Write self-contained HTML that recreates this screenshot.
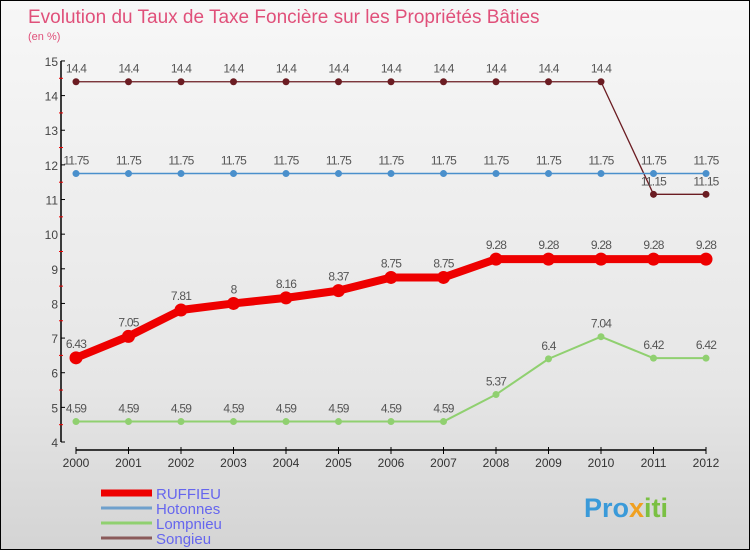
<!DOCTYPE html>
<html><head><meta charset="utf-8"><style>
html,body{margin:0;padding:0}
body{width:750px;height:550px;overflow:hidden;font-family:"Liberation Sans",sans-serif}
#wrap{position:relative;width:748px;height:548px;border:1px solid #000;background:linear-gradient(#f7f7f7,#e6e6e6 70%,#d4d4d4)}
svg{position:absolute;left:0;top:0}
</style></head><body>
<div id="wrap">
<svg id="chart" width="750" height="550">
<text x="27" y="22" font-size="19" fill="#e0507a">Evolution du Taux de Taxe Foncière sur les Propriétés Bâties</text>
<text x="27" y="39" font-size="11" fill="#e0507a">(en %)</text>
<g id="axes"></g><g id="series"></g><g id="legend"></g>
<text x="583" y="516" font-size="27" font-weight="bold" fill="#3a9ad9">Pro<tspan fill="#f0a020">x</tspan><tspan fill="#7ac043">iti</tspan></text>
</svg></div>
<script>
const years=[2000,2001,2002,2003,2004,2005,2006,2007,2008,2009,2010,2011,2012];
const yTicks=[4,5,6,7,8,9,10,11,12,13,14,15];
const ruffieu=[6.43,7.05,7.81,8,8.16,8.37,8.75,8.75,9.28,9.28,9.28,9.28,9.28];
const hotonnes=[11.75,11.75,11.75,11.75,11.75,11.75,11.75,11.75,11.75,11.75,11.75,11.75,11.75];
const lompnieu=[4.59,4.59,4.59,4.59,4.59,4.59,4.59,4.59,5.37,6.4,7.04,6.42,6.42];
const songieu=[14.4,14.4,14.4,14.4,14.4,14.4,14.4,14.4,14.4,14.4,14.4,11.15,11.15];
const seriesNames=["RUFFIEU","Hotonnes","Lompnieu","Songieu"];
const NS="http://www.w3.org/2000/svg";
const X=i=>75+i*52.5;
const Y=v=>441-(v-4)*34.64;
function mk(tag,attrs,parent){const e=document.createElementNS(NS,tag);for(const k in attrs)e.setAttribute(k,attrs[k]);parent.appendChild(e);return e;}
const axes=document.getElementById('axes');
let yl=mk('line',{x1:60,y1:Y(15),x2:60,y2:Y(4),stroke:'#000','stroke-width':1.5},axes);


yTicks.forEach(v=>{
 mk('line',{x1:60,y1:Y(v),x2:64,y2:Y(v),stroke:'#000'},axes);
 if(v<15){mk('line',{x1:58,y1:Y(v+0.5),x2:62,y2:Y(v+0.5),stroke:'#e00'},axes);}
 const t=mk('text',{x:57,y:Y(v)+5,'font-size':12,fill:'#444','text-anchor':'end'},axes);t.textContent=v;
 
 
});
let xl=mk('line',{x1:X(0),y1:449,x2:X(12),y2:449,stroke:'#000','stroke-width':1.5},axes);


years.forEach((yr,i)=>{
 mk('line',{x1:X(i),y1:446,x2:X(i),y2:453,stroke:'#000'},axes);
 const t=mk('text',{x:X(i),y:466,'font-size':12,fill:'#333','text-anchor':'middle'},axes);t.textContent=yr;
 
 
});
const ser=document.getElementById('series');
function draw(data,color,w,r,name,labOff){
 const g=mk('g',{},ser);
 
 
 mk('polyline',{points:data.map((v,i)=>X(i)+','+Y(v)).join(' '),fill:'none',stroke:color,'stroke-width':w,'stroke-linejoin':'round'},g);
 data.forEach((v,i)=>{
  const c=mk('circle',{cx:X(i),cy:Y(v),r:r,fill:color},g);
  
  
  const t=mk('text',{x:X(i),y:Y(v)+labOff,'font-size':12,fill:'#555','text-anchor':'middle','letter-spacing':'-0.8'},g);
  t.textContent=v;
  
  
 });
}
draw(songieu,'#6b1c22',1.3,3.5,'songieu',-9);
draw(hotonnes,'#4a90cc',1.5,3.5,'hotonnes',-9);
draw(lompnieu,'#90d070',2,3.5,'lompnieu',-9);
draw(ruffieu,'#ee0000',8,6.5,'ruffieu',-10);
const lg=document.getElementById('legend');
const lcol=['#ee0000','#6fa0cc','#90d070','#8a5a5a'];
const lw=[7,3,3,3];
seriesNames.forEach((n,i)=>{
 const y=492+i*15;
 const l=mk('line',{x1:100,y1:y,x2:151,y2:y,stroke:lcol[i],'stroke-width':lw[i]},lg);
 
 
 const t=mk('text',{x:155,y:y+6,'font-size':15,fill:'#6666ee'},lg);t.textContent=n;
 
 
});
</script>
</body></html>
